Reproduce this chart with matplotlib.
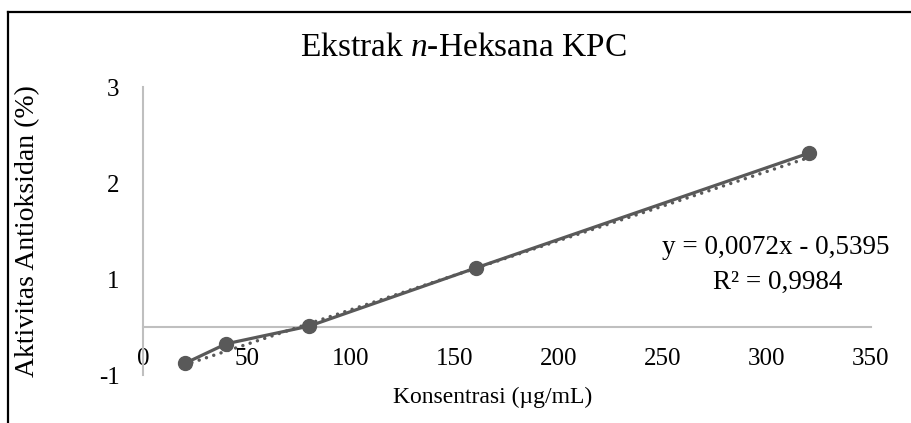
import matplotlib
matplotlib.use('Agg')
import matplotlib.pyplot as plt
from matplotlib.lines import Line2D
import numpy as np

plt.rcParams['font.family'] = ['Liberation Serif', 'DejaVu Serif']
plt.rcParams['mathtext.fontset'] = 'custom'
plt.rcParams['mathtext.rm'] = 'Liberation Serif'
plt.rcParams['mathtext.it'] = 'Liberation Serif:italic'

# data
konsentrasi = [20, 40, 80, 160, 320]
aktivitas = [-0.38, -0.175, 0.01, 0.615, 1.81]
slope = 0.0072
intercept = -0.5395
r2 = 0.9984

x_ticks = [0, 50, 100, 150, 200, 250, 300, 350]
y_ticks = [-0.5, 0.5, 1.5, 2.5]
y_tick_labels = ['-1', '1', '2', '3']

title = r'Ekstrak $\mathit{n}$-Heksana KPC'
xlabel = 'Konsentrasi (µg/mL)'
ylabel = 'Aktivitas Antioksidan (%)'

tick_fs = 18
line_color = '#595959'
axis_color = '#BFBFBF'

W, H = 912, 423
fig = plt.figure(figsize=(W / 100, H / 100), dpi=100)
ax = fig.add_axes([143 / W, 1 - 375 / H, (871 - 143) / W, (375 - 87) / H])

ax.plot(konsentrasi, aktivitas, color=line_color, lw=2.3, marker='o',
        markersize=10, zorder=3)

# linear trendline over the data range
xt = np.array([min(konsentrasi), max(konsentrasi)])
ax.plot(xt, slope * xt + intercept, color=line_color, lw=2.5,
        linestyle=(0, (0.01, 2.2)), dash_capstyle='round', zorder=4)

ax.set_xlim(0, 350)
ax.set_ylim(-0.5, 2.5)
ax.set_xticks(x_ticks)
ax.set_yticks(y_ticks)
ax.set_yticklabels(y_tick_labels)

for s in ['top', 'right']:
    ax.spines[s].set_visible(False)
ax.spines['bottom'].set_position(('data', 0))
ax.spines['left'].set_position(('data', 0))
for s in ['bottom', 'left']:
    ax.spines[s].set_color(axis_color)
    ax.spines[s].set_linewidth(1.5)
ax.tick_params(axis='x', length=0, pad=15, labelsize=tick_fs)
ax.tick_params(axis='y', length=0, pad=17, labelsize=tick_fs)

fig.text(463 / W, 1 - 48 / H, title, ha='center', va='center', fontsize=24)
fig.text(493 / W, 1 - 397 / H, xlabel, ha='center', va='center', fontsize=17)
fig.text(28 / W, 1 - 231 / H, ylabel, ha='center', va='center', rotation=90,
         fontsize=20)

eq = 'y = {:.4f}x - {:.4f}'.format(slope, -intercept).replace('.', ',')
r2_txt = 'R² = {:.4f}'.format(r2).replace('.', ',')
fig.text(776 / W, 1 - 248 / H, eq, ha='center', va='center', fontsize=19.5)
fig.text(778 / W, 1 - 282 / H, r2_txt, ha='center', va='center', fontsize=19.5)

# chart border (cropped on right and bottom)
fig.add_artist(Line2D([8 / W, 8 / W], [0, 1 - 12 / H], color='black', lw=1.6,
                      transform=fig.transFigure))
fig.add_artist(Line2D([8 / W, 1], [1 - 12 / H, 1 - 12 / H], color='black', lw=1.6,
                      transform=fig.transFigure))

fig.savefig('out.png', dpi=100)
